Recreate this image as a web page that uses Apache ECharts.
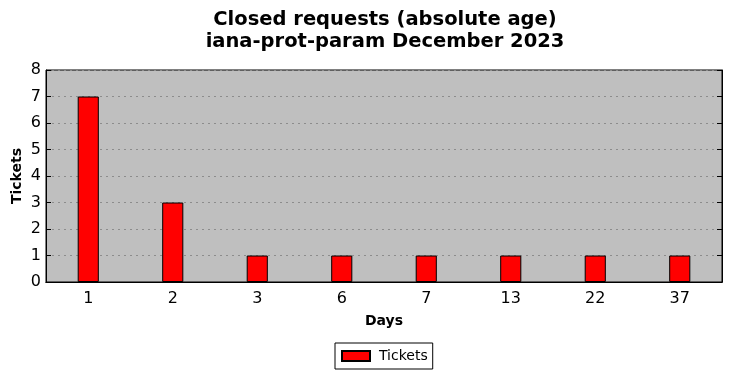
<!DOCTYPE html>
<html><head><meta charset="utf-8">
<script src="https://cdn.jsdelivr.net/npm/echarts@6/dist/echarts.min.js"></script>
<style>html,body{margin:0;padding:0;background:#fff}#c{width:732px;height:378px}</style>
</head><body><div id="c"></div>
<script>
const categories = ['1','2','3','6','7','13','22','37'];
const tickets = [7,3,1,1,1,1,1,1];
const yTicks = [0,1,2,3,4,5,6,7,8];
const titleLines = ['Closed requests (absolute age)','iana-prot-param December 2023'];
const F = 'DejaVu Sans';
const chart = echarts.init(document.getElementById('c'), null, {renderer:'canvas'});
chart.setOption({
  animation:false,
  backgroundColor:'#ffffff',
  title:{text:titleLines.join('\n'), left:380, textAlign:'center', top:4,
    textStyle:{fontFamily:F, fontWeight:'bold', fontSize:19.5, color:'#000', lineHeight:22}},
  grid:{left:46, right:10, top:70, bottom:96, show:true, backgroundColor:'#bfbfbf', borderColor:'#000', borderWidth:1,
    containLabel:false, outerBoundsMode:'none'},
  legend:{data:['Tickets'], left:335, top:343, orient:'horizontal', icon:'rect', itemWidth:28, itemHeight:10,
    borderColor:'#000', borderWidth:1, borderRadius:0, padding:[6,5,6,6], itemGap:8,
    textStyle:{fontFamily:F, fontSize:14, color:'#000', padding:[0,0,0,4]}},
  xAxis:[{type:'category', data:categories, name:'Days', nameLocation:'middle', nameGap:32,
    nameTextStyle:{fontFamily:F, fontWeight:'bold', fontSize:14, color:'#000'},
    axisLine:{lineStyle:{color:'#000'}}, axisTick:{inside:true, alignWithLabel:true, length:5, lineStyle:{color:'#000'}},
    axisLabel:{fontFamily:F, fontSize:16, color:'#000', margin:9}, splitLine:{show:false}},
   {type:'category', data:categories, position:'top', axisLine:{lineStyle:{color:'#000'}},
    axisTick:{inside:true, alignWithLabel:true, length:5, lineStyle:{color:'#000'}}, axisLabel:{show:false}}],
  yAxis:[{type:'value', min:0, max:8, interval:1, name:'Tickets', nameLocation:'middle', nameGap:22, nameMoveOverlap:false,
    nameTextStyle:{fontFamily:F, fontWeight:'bold', fontSize:14, color:'#000'},
    axisLine:{show:true, lineStyle:{color:'#000'}}, axisTick:{show:true, inside:true, length:5, lineStyle:{color:'#000'}},
    axisLabel:{fontFamily:F, fontSize:16, color:'#000', margin:5, formatter:v=>yTicks.includes(v)?String(v):''},
    splitLine:{show:true, lineStyle:{color:'#8c8c8c', type:[2,4], width:1}}},
   {type:'value', min:0, max:8, interval:1, position:'right', axisLine:{show:true, lineStyle:{color:'#000'}},
    axisTick:{show:true, inside:true, length:5, lineStyle:{color:'#000'}}, axisLabel:{show:false}, splitLine:{show:false}}],
  series:[{name:'Tickets', type:'bar', data:tickets, barWidth:'25%',
    itemStyle:{color:'#ff0000', borderColor:'#000', borderWidth:1}}]
});
</script></body></html>
